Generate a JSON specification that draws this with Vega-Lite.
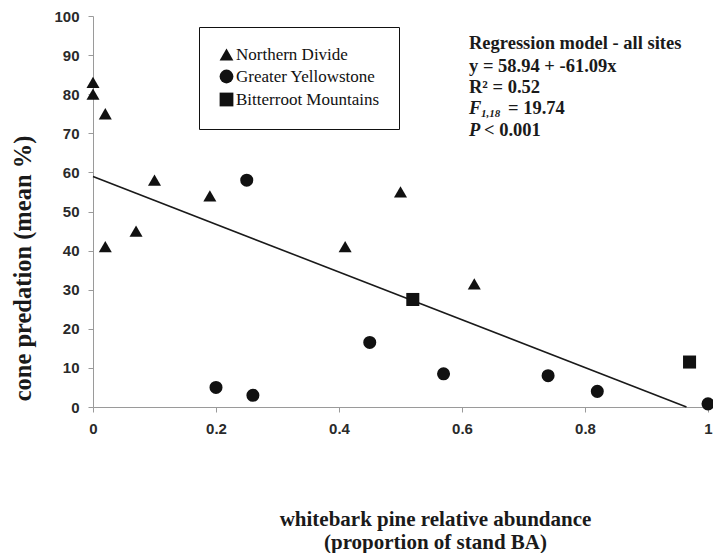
{
  "$schema": "https://vega.github.io/schema/vega-lite/v6.json",
  "width": 615,
  "height": 391,
  "autosize": {"type": "none"},
  "padding": {"left": 93, "top": 16, "right": 5, "bottom": 146},
  "background": "white",
  "config": {
    "view": {"stroke": null},
    "axis": {
      "grid": false,
      "domainColor": "#9a9a9a",
      "tickColor": "#9a9a9a",
      "tickSize": 5,
      "labelOverlap": false,
      "labelFlush": false,
      "labelFont": "Liberation Sans",
      "labelFontWeight": "bold",
      "labelFontSize": 15,
      "labelColor": "#2a2a2a",
      "labelPadding": 9,
      "titleFont": "Liberation Serif",
      "titleFontWeight": "bold",
      "titleFontSize": 21,
      "titleColor": "#1a1a1a"
    },
    "axisY": {"labelOverlap": false, "tickCount": 11},
    "legend": {"labelFont": "Liberation Serif", "labelFontSize": 17}
  },
  "datasets": {
    "points": [
      {"site": "Northern Divide", "x": 0.0, "y": 83},
      {"site": "Northern Divide", "x": 0.0, "y": 80},
      {"site": "Northern Divide", "x": 0.02, "y": 75},
      {"site": "Northern Divide", "x": 0.10, "y": 58},
      {"site": "Northern Divide", "x": 0.19, "y": 54},
      {"site": "Northern Divide", "x": 0.02, "y": 41},
      {"site": "Northern Divide", "x": 0.07, "y": 45},
      {"site": "Northern Divide", "x": 0.41, "y": 41},
      {"site": "Northern Divide", "x": 0.50, "y": 55},
      {"site": "Northern Divide", "x": 0.62, "y": 31.5},
      {"site": "Greater Yellowstone", "x": 0.25, "y": 58},
      {"site": "Greater Yellowstone", "x": 0.20, "y": 5},
      {"site": "Greater Yellowstone", "x": 0.26, "y": 3},
      {"site": "Greater Yellowstone", "x": 0.45, "y": 16.5},
      {"site": "Greater Yellowstone", "x": 0.57, "y": 8.5},
      {"site": "Greater Yellowstone", "x": 0.74, "y": 8},
      {"site": "Greater Yellowstone", "x": 0.82, "y": 4},
      {"site": "Greater Yellowstone", "x": 1.0, "y": 0.8},
      {"site": "Bitterroot Mountains", "x": 0.52, "y": 27.5},
      {"site": "Bitterroot Mountains", "x": 0.97, "y": 11.5}
    ],
    "fit": [
      {"x": 0, "y": 58.94},
      {"x": 0.965, "y": 0}
    ]
  },
  "layer": [
    {
      "data": {"name": "fit"},
      "mark": {"type": "line", "color": "#1a1a1a", "strokeWidth": 1.6},
      "encoding": {
        "x": {
          "field": "x", "type": "quantitative",
          "scale": {"domain": [0, 1], "nice": false, "zero": false},
          "axis": {
            "values": [0, 0.2, 0.4, 0.6, 0.8, 1],
            "format": "~g",
            "labelOverlap": false,
            "labelFlush": false,
            "title": ["whitebark pine relative abundance", "(proportion of stand BA)"],
            "titleLineHeight": 23,
            "titleX": 342,
            "titleY": 101,
            "titleAlign": "center",
            "titleBaseline": "top"
          }
        },
        "y": {
          "field": "y", "type": "quantitative",
          "scale": {"domain": [0, 100], "nice": false},
          "axis": {
            "values": [0, 10, 20, 30, 40, 50, 60, 70, 80, 90, 100],
            "labelOverlap": false,
            "title": "cone predation (mean %)",
            "titleFontSize": 24.5,
            "titleAngle": -90,
            "titleX": -70,
            "titleY": 252,
            "titleAlign": "center",
            "titleBaseline": "middle"
          }
        }
      }
    },
    {
      "data": {"name": "points"},
      "mark": {"type": "point", "filled": true, "color": "#111111", "opacity": 1, "size": 170},
      "encoding": {
        "x": {
          "field": "x", "type": "quantitative",
          "axis": {"values": [0, 0.2, 0.4, 0.6, 0.8, 1], "format": "~g", "labelOverlap": false, "labelFlush": false}
        },
        "y": {
          "field": "y", "type": "quantitative",
          "axis": {"values": [0, 10, 20, 30, 40, 50, 60, 70, 80, 90, 100], "labelOverlap": false}
        },
        "shape": {
          "field": "site", "type": "nominal",
          "scale": {
            "domain": ["Northern Divide", "Greater Yellowstone", "Bitterroot Mountains"],
            "range": ["triangle-up", "circle", "square"]
          },
          "legend": {
            "title": null,
            "orient": "none",
            "legendX": 106,
            "legendY": 11,
            "padding": 19,
            "strokeColor": "#111111",
            "fillColor": "white",
            "labelFont": "Liberation Serif",
            "labelFontSize": 17,
            "labelColor": "#111111",
            "labelOffset": 1,
            "rowPadding": 2,
            "symbolSize": 190,
            "symbolFillColor": "#111111",
            "symbolStrokeColor": "#111111",
            "symbolOpacity": 1,
            "encode": {"legend": {"update": {"strokeWidth": {"value": 1.5}}}}
          }
        }
      }
    },
    {
      "data": {"values": [{"label": "Regression model - all sites"}]},
      "mark": {"type": "text", "align": "left", "baseline": "middle", "font": "Liberation Serif", "fontWeight": "bold", "fontSize": 18.5, "color": "#1a1a1a"},
      "encoding": {
        "x": {"datum": 0.6114, "axis": {"values": [0, 0.2, 0.4, 0.6, 0.8, 1], "format": "~g", "labelOverlap": false, "labelFlush": false}},
        "y": {"datum": 93.1, "axis": {"values": [0, 10, 20, 30, 40, 50, 60, 70, 80, 90, 100], "labelOverlap": false}},
        "text": {"field": "label"}
      }
    },
    {
      "data": {"values": [{"label": "y = 58.94 + -61.09x"}]},
      "mark": {"type": "text", "align": "left", "baseline": "middle", "font": "Liberation Serif", "fontWeight": "bold", "fontSize": 18.5, "color": "#1a1a1a"},
      "encoding": {
        "x": {"datum": 0.6114, "axis": {"values": [0, 0.2, 0.4, 0.6, 0.8, 1], "format": "~g", "labelOverlap": false, "labelFlush": false}},
        "y": {"datum": 87.2, "axis": {"values": [0, 10, 20, 30, 40, 50, 60, 70, 80, 90, 100], "labelOverlap": false}},
        "text": {"field": "label"}
      }
    },
    {
      "data": {"values": [{"label": "R² = 0.52"}]},
      "mark": {"type": "text", "align": "left", "baseline": "middle", "font": "Liberation Serif", "fontWeight": "bold", "fontSize": 18.5, "color": "#1a1a1a"},
      "encoding": {
        "x": {"datum": 0.6114, "axis": {"values": [0, 0.2, 0.4, 0.6, 0.8, 1], "format": "~g", "labelOverlap": false, "labelFlush": false}},
        "y": {"datum": 81.8, "axis": {"values": [0, 10, 20, 30, 40, 50, 60, 70, 80, 90, 100], "labelOverlap": false}},
        "text": {"field": "label"}
      }
    },
    {
      "data": {"values": [{"label": "F"}]},
      "mark": {"type": "text", "align": "left", "baseline": "middle", "font": "Liberation Serif", "fontWeight": "bold", "fontStyle": "italic", "fontSize": 18.5, "color": "#1a1a1a"},
      "encoding": {
        "x": {"datum": 0.6114, "axis": {"values": [0, 0.2, 0.4, 0.6, 0.8, 1], "format": "~g", "labelOverlap": false, "labelFlush": false}},
        "y": {"datum": 76.5, "axis": {"values": [0, 10, 20, 30, 40, 50, 60, 70, 80, 90, 100], "labelOverlap": false}},
        "text": {"field": "label"}
      }
    },
    {
      "data": {"values": [{"label": "1,18"}]},
      "mark": {"type": "text", "align": "left", "baseline": "middle", "font": "Liberation Serif", "fontWeight": "bold", "fontStyle": "italic", "fontSize": 11, "color": "#1a1a1a", "dx": 12, "dy": 6},
      "encoding": {
        "x": {"datum": 0.6114, "axis": {"values": [0, 0.2, 0.4, 0.6, 0.8, 1], "format": "~g", "labelOverlap": false, "labelFlush": false}},
        "y": {"datum": 76.5, "axis": {"values": [0, 10, 20, 30, 40, 50, 60, 70, 80, 90, 100], "labelOverlap": false}},
        "text": {"field": "label"}
      }
    },
    {
      "data": {"values": [{"label": "= 19.74"}]},
      "mark": {"type": "text", "align": "left", "baseline": "middle", "font": "Liberation Serif", "fontWeight": "bold", "fontSize": 18.5, "color": "#1a1a1a", "dx": 39},
      "encoding": {
        "x": {"datum": 0.6114, "axis": {"values": [0, 0.2, 0.4, 0.6, 0.8, 1], "format": "~g", "labelOverlap": false, "labelFlush": false}},
        "y": {"datum": 76.5, "axis": {"values": [0, 10, 20, 30, 40, 50, 60, 70, 80, 90, 100], "labelOverlap": false}},
        "text": {"field": "label"}
      }
    },
    {
      "data": {"values": [{"label": "P"}]},
      "mark": {"type": "text", "align": "left", "baseline": "middle", "font": "Liberation Serif", "fontWeight": "bold", "fontStyle": "italic", "fontSize": 18.5, "color": "#1a1a1a"},
      "encoding": {
        "x": {"datum": 0.6114, "axis": {"values": [0, 0.2, 0.4, 0.6, 0.8, 1], "format": "~g", "labelOverlap": false, "labelFlush": false}},
        "y": {"datum": 70.8, "axis": {"values": [0, 10, 20, 30, 40, 50, 60, 70, 80, 90, 100], "labelOverlap": false}},
        "text": {"field": "label"}
      }
    },
    {
      "data": {"values": [{"label": "< 0.001"}]},
      "mark": {"type": "text", "align": "left", "baseline": "middle", "font": "Liberation Serif", "fontWeight": "bold", "fontSize": 18.5, "color": "#1a1a1a", "dx": 15},
      "encoding": {
        "x": {"datum": 0.6114, "axis": {"values": [0, 0.2, 0.4, 0.6, 0.8, 1], "format": "~g", "labelOverlap": false, "labelFlush": false}},
        "y": {"datum": 70.8, "axis": {"values": [0, 10, 20, 30, 40, 50, 60, 70, 80, 90, 100], "labelOverlap": false}},
        "text": {"field": "label"}
      }
    }
  ]
}
